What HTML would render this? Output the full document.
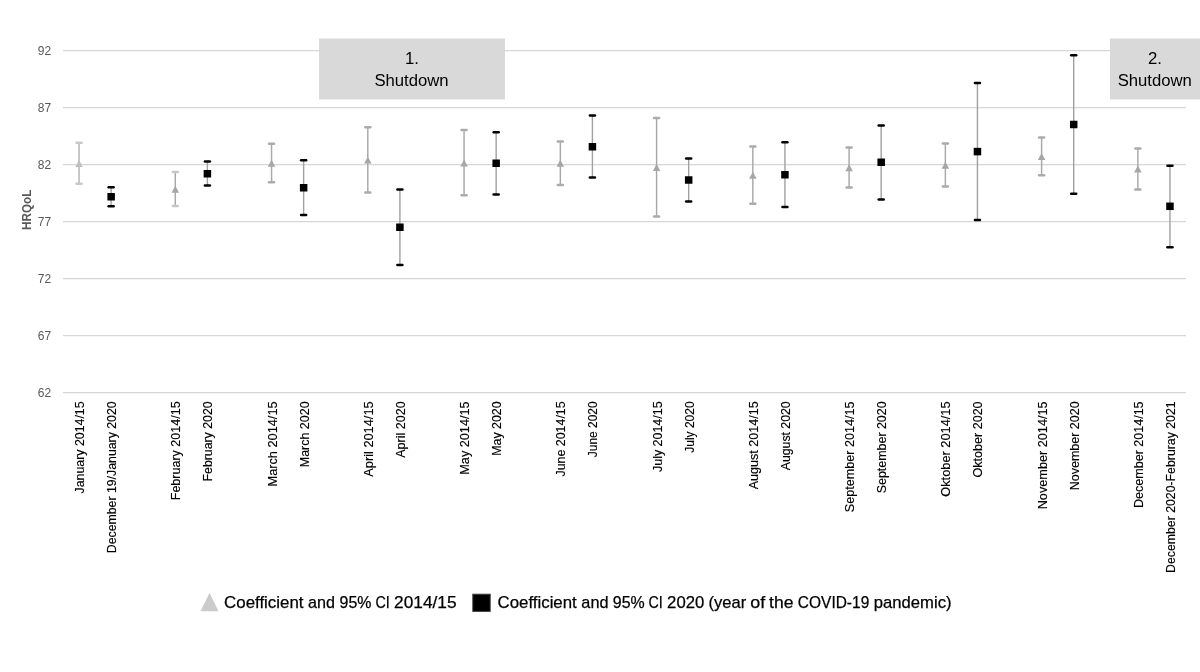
<!DOCTYPE html>
<html><head><meta charset="utf-8"><title>HRQoL</title>
<style>
html,body{margin:0;padding:0;background:#fff;}
body{width:1200px;height:672px;overflow:hidden;font-family:"Liberation Sans",sans-serif;}
svg{display:block;will-change:transform;}
text{font-family:"Liberation Sans",sans-serif;}
</style></head><body>
<svg width="1200" height="672" viewBox="0 0 1200 672">
<rect x="0" y="0" width="1200" height="672" fill="#ffffff"/>
<line x1="63.0" x2="1186.0" y1="50.6" y2="50.6" stroke="#d6d6d6" stroke-width="1.25"/>
<line x1="63.0" x2="1186.0" y1="107.6" y2="107.6" stroke="#d6d6d6" stroke-width="1.25"/>
<line x1="63.0" x2="1186.0" y1="164.6" y2="164.6" stroke="#d6d6d6" stroke-width="1.25"/>
<line x1="63.0" x2="1186.0" y1="221.6" y2="221.6" stroke="#d6d6d6" stroke-width="1.25"/>
<line x1="63.0" x2="1186.0" y1="278.6" y2="278.6" stroke="#d6d6d6" stroke-width="1.25"/>
<line x1="63.0" x2="1186.0" y1="335.6" y2="335.6" stroke="#d6d6d6" stroke-width="1.25"/>
<line x1="63.0" x2="1186.0" y1="392.6" y2="392.6" stroke="#d6d6d6" stroke-width="1.25"/>
<text x="51.1" y="54.9" font-size="12" fill="#595959" text-anchor="end">92</text>
<text x="51.1" y="111.9" font-size="12" fill="#595959" text-anchor="end">87</text>
<text x="51.1" y="168.9" font-size="12" fill="#595959" text-anchor="end">82</text>
<text x="51.1" y="225.9" font-size="12" fill="#595959" text-anchor="end">77</text>
<text x="51.1" y="282.9" font-size="12" fill="#595959" text-anchor="end">72</text>
<text x="51.1" y="339.9" font-size="12" fill="#595959" text-anchor="end">67</text>
<text x="51.1" y="396.9" font-size="12" fill="#595959" text-anchor="end">62</text>
<text transform="translate(30.6,209.8) rotate(-90)" font-size="12.8" font-weight="bold" fill="#595959" text-anchor="middle" textLength="40.2" lengthAdjust="spacingAndGlyphs">HRQoL</text>
<rect x="319" y="38.5" width="186" height="61" fill="#d9d9d9"/>
<rect x="1110" y="38.5" width="95" height="61" fill="#d9d9d9"/>
<text x="412" y="63.8" font-size="16.75" fill="#000" text-anchor="middle">1.</text>
<text x="411.5" y="86" font-size="16.75" fill="#000" text-anchor="middle" textLength="74.2" lengthAdjust="spacingAndGlyphs">Shutdown</text>
<text x="1155" y="63.8" font-size="16.75" fill="#000" text-anchor="middle">2.</text>
<text x="1154.75" y="86" font-size="16.75" fill="#000" text-anchor="middle" textLength="74.2" lengthAdjust="spacingAndGlyphs">Shutdown</text>
<line x1="79.04" x2="79.04" y1="142.75" y2="183.75" stroke="#b4b4b4" stroke-width="1.45"/>
<line x1="76.49" x2="81.59" y1="142.75" y2="142.75" stroke="#c8c8c8" stroke-width="2.4" stroke-linecap="round"/>
<line x1="76.49" x2="81.59" y1="183.75" y2="183.75" stroke="#c8c8c8" stroke-width="2.4" stroke-linecap="round"/>
<path d="M79.04,160.10 L82.79,166.90 L75.29,166.90 Z" fill="#bfbfbf"/>
<line x1="175.30" x2="175.30" y1="172" y2="206" stroke="#a8a8a8" stroke-width="1.45"/>
<line x1="172.75" x2="177.85" y1="172" y2="172" stroke="#c8c8c8" stroke-width="2.4" stroke-linecap="round"/>
<line x1="172.75" x2="177.85" y1="206" y2="206" stroke="#c8c8c8" stroke-width="2.4" stroke-linecap="round"/>
<path d="M175.30,185.85 L179.05,192.65 L171.55,192.65 Z" fill="#a6a6a6"/>
<line x1="271.56" x2="271.56" y1="143.75" y2="182.25" stroke="#a8a8a8" stroke-width="1.45"/>
<line x1="269.01" x2="274.11" y1="143.75" y2="143.75" stroke="#ababab" stroke-width="2.4" stroke-linecap="round"/>
<line x1="269.01" x2="274.11" y1="182.25" y2="182.25" stroke="#ababab" stroke-width="2.4" stroke-linecap="round"/>
<path d="M271.56,159.85 L275.31,166.65 L267.81,166.65 Z" fill="#a6a6a6"/>
<line x1="367.81" x2="367.81" y1="127.25" y2="192.5" stroke="#a8a8a8" stroke-width="1.45"/>
<line x1="365.26" x2="370.36" y1="127.25" y2="127.25" stroke="#ababab" stroke-width="2.4" stroke-linecap="round"/>
<line x1="365.26" x2="370.36" y1="192.5" y2="192.5" stroke="#ababab" stroke-width="2.4" stroke-linecap="round"/>
<path d="M367.81,156.70 L371.56,163.50 L364.06,163.50 Z" fill="#a6a6a6"/>
<line x1="464.07" x2="464.07" y1="130" y2="195.25" stroke="#a8a8a8" stroke-width="1.45"/>
<line x1="461.52" x2="466.62" y1="130" y2="130" stroke="#ababab" stroke-width="2.4" stroke-linecap="round"/>
<line x1="461.52" x2="466.62" y1="195.25" y2="195.25" stroke="#ababab" stroke-width="2.4" stroke-linecap="round"/>
<path d="M464.07,159.60 L467.82,166.40 L460.32,166.40 Z" fill="#a6a6a6"/>
<line x1="560.33" x2="560.33" y1="141.5" y2="185" stroke="#a8a8a8" stroke-width="1.45"/>
<line x1="557.78" x2="562.88" y1="141.5" y2="141.5" stroke="#ababab" stroke-width="2.4" stroke-linecap="round"/>
<line x1="557.78" x2="562.88" y1="185" y2="185" stroke="#ababab" stroke-width="2.4" stroke-linecap="round"/>
<path d="M560.33,159.85 L564.08,166.65 L556.58,166.65 Z" fill="#a6a6a6"/>
<line x1="656.59" x2="656.59" y1="118" y2="216.5" stroke="#a8a8a8" stroke-width="1.45"/>
<line x1="654.04" x2="659.14" y1="118" y2="118" stroke="#ababab" stroke-width="2.4" stroke-linecap="round"/>
<line x1="654.04" x2="659.14" y1="216.5" y2="216.5" stroke="#ababab" stroke-width="2.4" stroke-linecap="round"/>
<path d="M656.59,164.10 L660.34,170.90 L652.84,170.90 Z" fill="#a6a6a6"/>
<line x1="752.84" x2="752.84" y1="146.5" y2="203.75" stroke="#a8a8a8" stroke-width="1.45"/>
<line x1="750.29" x2="755.39" y1="146.5" y2="146.5" stroke="#ababab" stroke-width="2.4" stroke-linecap="round"/>
<line x1="750.29" x2="755.39" y1="203.75" y2="203.75" stroke="#ababab" stroke-width="2.4" stroke-linecap="round"/>
<path d="M752.84,171.85 L756.59,178.65 L749.09,178.65 Z" fill="#a6a6a6"/>
<line x1="849.10" x2="849.10" y1="147.5" y2="187.5" stroke="#a8a8a8" stroke-width="1.45"/>
<line x1="846.55" x2="851.65" y1="147.5" y2="147.5" stroke="#ababab" stroke-width="2.4" stroke-linecap="round"/>
<line x1="846.55" x2="851.65" y1="187.5" y2="187.5" stroke="#ababab" stroke-width="2.4" stroke-linecap="round"/>
<path d="M849.10,164.35 L852.85,171.15 L845.35,171.15 Z" fill="#a6a6a6"/>
<line x1="945.36" x2="945.36" y1="143.5" y2="186.5" stroke="#a8a8a8" stroke-width="1.45"/>
<line x1="942.81" x2="947.91" y1="143.5" y2="143.5" stroke="#ababab" stroke-width="2.4" stroke-linecap="round"/>
<line x1="942.81" x2="947.91" y1="186.5" y2="186.5" stroke="#ababab" stroke-width="2.4" stroke-linecap="round"/>
<path d="M945.36,161.85 L949.11,168.65 L941.61,168.65 Z" fill="#a6a6a6"/>
<line x1="1041.61" x2="1041.61" y1="137.5" y2="175.25" stroke="#a8a8a8" stroke-width="1.45"/>
<line x1="1039.06" x2="1044.16" y1="137.5" y2="137.5" stroke="#ababab" stroke-width="2.4" stroke-linecap="round"/>
<line x1="1039.06" x2="1044.16" y1="175.25" y2="175.25" stroke="#ababab" stroke-width="2.4" stroke-linecap="round"/>
<path d="M1041.61,153.10 L1045.36,159.90 L1037.86,159.90 Z" fill="#a6a6a6"/>
<line x1="1137.87" x2="1137.87" y1="148.5" y2="189.5" stroke="#a8a8a8" stroke-width="1.45"/>
<line x1="1135.32" x2="1140.42" y1="148.5" y2="148.5" stroke="#ababab" stroke-width="2.4" stroke-linecap="round"/>
<line x1="1135.32" x2="1140.42" y1="189.5" y2="189.5" stroke="#ababab" stroke-width="2.4" stroke-linecap="round"/>
<path d="M1137.87,165.60 L1141.62,172.40 L1134.12,172.40 Z" fill="#a6a6a6"/>
<line x1="111.13" x2="111.13" y1="187.25" y2="206.25" stroke="#a0a0a0" stroke-width="1.4"/>
<line x1="108.58" x2="113.68" y1="187.25" y2="187.25" stroke="#000" stroke-width="2.4" stroke-linecap="round"/>
<line x1="108.58" x2="113.68" y1="206.25" y2="206.25" stroke="#000" stroke-width="2.4" stroke-linecap="round"/>
<rect x="107.38" y="193.00" width="7.5" height="7.5" fill="#000"/>
<line x1="207.39" x2="207.39" y1="161.5" y2="185.5" stroke="#a0a0a0" stroke-width="1.4"/>
<line x1="204.84" x2="209.94" y1="161.5" y2="161.5" stroke="#000" stroke-width="2.4" stroke-linecap="round"/>
<line x1="204.84" x2="209.94" y1="185.5" y2="185.5" stroke="#000" stroke-width="2.4" stroke-linecap="round"/>
<rect x="203.64" y="170.00" width="7.5" height="7.5" fill="#000"/>
<line x1="303.64" x2="303.64" y1="160.25" y2="215" stroke="#a0a0a0" stroke-width="1.4"/>
<line x1="301.09" x2="306.19" y1="160.25" y2="160.25" stroke="#000" stroke-width="2.4" stroke-linecap="round"/>
<line x1="301.09" x2="306.19" y1="215" y2="215" stroke="#000" stroke-width="2.4" stroke-linecap="round"/>
<rect x="299.89" y="184.00" width="7.5" height="7.5" fill="#000"/>
<line x1="399.90" x2="399.90" y1="189.5" y2="265" stroke="#a0a0a0" stroke-width="1.4"/>
<line x1="397.35" x2="402.45" y1="189.5" y2="189.5" stroke="#000" stroke-width="2.4" stroke-linecap="round"/>
<line x1="397.35" x2="402.45" y1="265" y2="265" stroke="#000" stroke-width="2.4" stroke-linecap="round"/>
<rect x="396.15" y="223.50" width="7.5" height="7.5" fill="#000"/>
<line x1="496.16" x2="496.16" y1="132.25" y2="194.5" stroke="#a0a0a0" stroke-width="1.4"/>
<line x1="493.61" x2="498.71" y1="132.25" y2="132.25" stroke="#000" stroke-width="2.4" stroke-linecap="round"/>
<line x1="493.61" x2="498.71" y1="194.5" y2="194.5" stroke="#000" stroke-width="2.4" stroke-linecap="round"/>
<rect x="492.41" y="159.50" width="7.5" height="7.5" fill="#000"/>
<line x1="592.41" x2="592.41" y1="115.5" y2="177.5" stroke="#a0a0a0" stroke-width="1.4"/>
<line x1="589.86" x2="594.96" y1="115.5" y2="115.5" stroke="#000" stroke-width="2.4" stroke-linecap="round"/>
<line x1="589.86" x2="594.96" y1="177.5" y2="177.5" stroke="#000" stroke-width="2.4" stroke-linecap="round"/>
<rect x="588.66" y="143.00" width="7.5" height="7.5" fill="#000"/>
<line x1="688.67" x2="688.67" y1="158.5" y2="201.5" stroke="#a0a0a0" stroke-width="1.4"/>
<line x1="686.12" x2="691.22" y1="158.5" y2="158.5" stroke="#000" stroke-width="2.4" stroke-linecap="round"/>
<line x1="686.12" x2="691.22" y1="201.5" y2="201.5" stroke="#000" stroke-width="2.4" stroke-linecap="round"/>
<rect x="684.92" y="176.25" width="7.5" height="7.5" fill="#000"/>
<line x1="784.93" x2="784.93" y1="142.25" y2="207" stroke="#a0a0a0" stroke-width="1.4"/>
<line x1="782.38" x2="787.48" y1="142.25" y2="142.25" stroke="#000" stroke-width="2.4" stroke-linecap="round"/>
<line x1="782.38" x2="787.48" y1="207" y2="207" stroke="#000" stroke-width="2.4" stroke-linecap="round"/>
<rect x="781.18" y="171.00" width="7.5" height="7.5" fill="#000"/>
<line x1="881.19" x2="881.19" y1="125.5" y2="199.5" stroke="#a0a0a0" stroke-width="1.4"/>
<line x1="878.64" x2="883.74" y1="125.5" y2="125.5" stroke="#000" stroke-width="2.4" stroke-linecap="round"/>
<line x1="878.64" x2="883.74" y1="199.5" y2="199.5" stroke="#000" stroke-width="2.4" stroke-linecap="round"/>
<rect x="877.44" y="158.50" width="7.5" height="7.5" fill="#000"/>
<line x1="977.44" x2="977.44" y1="83" y2="220" stroke="#a0a0a0" stroke-width="1.4"/>
<line x1="974.89" x2="979.99" y1="83" y2="83" stroke="#000" stroke-width="2.4" stroke-linecap="round"/>
<line x1="974.89" x2="979.99" y1="220" y2="220" stroke="#000" stroke-width="2.4" stroke-linecap="round"/>
<rect x="973.69" y="147.85" width="7.5" height="7.5" fill="#000"/>
<line x1="1073.70" x2="1073.70" y1="55.25" y2="193.75" stroke="#a0a0a0" stroke-width="1.4"/>
<line x1="1071.15" x2="1076.25" y1="55.25" y2="55.25" stroke="#000" stroke-width="2.4" stroke-linecap="round"/>
<line x1="1071.15" x2="1076.25" y1="193.75" y2="193.75" stroke="#000" stroke-width="2.4" stroke-linecap="round"/>
<rect x="1069.95" y="120.75" width="7.5" height="7.5" fill="#000"/>
<line x1="1169.96" x2="1169.96" y1="165.75" y2="247.25" stroke="#a0a0a0" stroke-width="1.4"/>
<line x1="1167.41" x2="1172.51" y1="165.75" y2="165.75" stroke="#000" stroke-width="2.4" stroke-linecap="round"/>
<line x1="1167.41" x2="1172.51" y1="247.25" y2="247.25" stroke="#000" stroke-width="2.4" stroke-linecap="round"/>
<rect x="1166.21" y="202.55" width="7.5" height="7.5" fill="#000"/>
<text transform="translate(84.04,401.4) rotate(-90)" font-size="12.2" fill="#000" stroke="#000" stroke-width="0.15" text-anchor="end" textLength="92.10" lengthAdjust="spacingAndGlyphs">January 2014/15</text>
<text transform="translate(116.13,401.4) rotate(-90)" font-size="12.2" fill="#000" stroke="#000" stroke-width="0.15" text-anchor="end" textLength="151.85" lengthAdjust="spacingAndGlyphs">December 19/January 2020</text>
<text transform="translate(180.30,401.4) rotate(-90)" font-size="12.2" fill="#000" stroke="#000" stroke-width="0.15" text-anchor="end" textLength="98.85" lengthAdjust="spacingAndGlyphs">February 2014/15</text>
<text transform="translate(212.39,401.4) rotate(-90)" font-size="12.2" fill="#000" stroke="#000" stroke-width="0.15" text-anchor="end" textLength="80.10" lengthAdjust="spacingAndGlyphs">February 2020</text>
<text transform="translate(276.56,401.4) rotate(-90)" font-size="12.2" fill="#000" stroke="#000" stroke-width="0.15" text-anchor="end" textLength="85.10" lengthAdjust="spacingAndGlyphs">March 2014/15</text>
<text transform="translate(308.64,401.4) rotate(-90)" font-size="12.2" fill="#000" stroke="#000" stroke-width="0.15" text-anchor="end" textLength="65.85" lengthAdjust="spacingAndGlyphs">March 2020</text>
<text transform="translate(372.81,401.4) rotate(-90)" font-size="12.2" fill="#000" stroke="#000" stroke-width="0.15" text-anchor="end" textLength="75.35" lengthAdjust="spacingAndGlyphs">April 2014/15</text>
<text transform="translate(404.90,401.4) rotate(-90)" font-size="12.2" fill="#000" stroke="#000" stroke-width="0.15" text-anchor="end" textLength="56.35" lengthAdjust="spacingAndGlyphs">April 2020</text>
<text transform="translate(469.07,401.4) rotate(-90)" font-size="12.2" fill="#000" stroke="#000" stroke-width="0.15" text-anchor="end" textLength="73.35" lengthAdjust="spacingAndGlyphs">May 2014/15</text>
<text transform="translate(501.16,401.4) rotate(-90)" font-size="12.2" fill="#000" stroke="#000" stroke-width="0.15" text-anchor="end" textLength="54.35" lengthAdjust="spacingAndGlyphs">May 2020</text>
<text transform="translate(565.33,401.4) rotate(-90)" font-size="12.2" fill="#000" stroke="#000" stroke-width="0.15" text-anchor="end" textLength="75.10" lengthAdjust="spacingAndGlyphs">June 2014/15</text>
<text transform="translate(597.41,401.4) rotate(-90)" font-size="12.2" fill="#000" stroke="#000" stroke-width="0.15" text-anchor="end" textLength="55.85" lengthAdjust="spacingAndGlyphs">June 2020</text>
<text transform="translate(661.59,401.4) rotate(-90)" font-size="12.2" fill="#000" stroke="#000" stroke-width="0.15" text-anchor="end" textLength="70.60" lengthAdjust="spacingAndGlyphs">July 2014/15</text>
<text transform="translate(693.67,401.4) rotate(-90)" font-size="12.2" fill="#000" stroke="#000" stroke-width="0.15" text-anchor="end" textLength="51.35" lengthAdjust="spacingAndGlyphs">July 2020</text>
<text transform="translate(757.84,401.4) rotate(-90)" font-size="12.2" fill="#000" stroke="#000" stroke-width="0.15" text-anchor="end" textLength="87.85" lengthAdjust="spacingAndGlyphs">August 2014/15</text>
<text transform="translate(789.93,401.4) rotate(-90)" font-size="12.2" fill="#000" stroke="#000" stroke-width="0.15" text-anchor="end" textLength="68.85" lengthAdjust="spacingAndGlyphs">August 2020</text>
<text transform="translate(854.10,401.4) rotate(-90)" font-size="12.2" fill="#000" stroke="#000" stroke-width="0.15" text-anchor="end" textLength="110.85" lengthAdjust="spacingAndGlyphs">September 2014/15</text>
<text transform="translate(886.19,401.4) rotate(-90)" font-size="12.2" fill="#000" stroke="#000" stroke-width="0.15" text-anchor="end" textLength="91.85" lengthAdjust="spacingAndGlyphs">September 2020</text>
<text transform="translate(950.36,401.4) rotate(-90)" font-size="12.2" fill="#000" stroke="#000" stroke-width="0.15" text-anchor="end" textLength="95.35" lengthAdjust="spacingAndGlyphs">Oktober 2014/15</text>
<text transform="translate(982.44,401.4) rotate(-90)" font-size="12.2" fill="#000" stroke="#000" stroke-width="0.15" text-anchor="end" textLength="76.10" lengthAdjust="spacingAndGlyphs">Oktober 2020</text>
<text transform="translate(1046.61,401.4) rotate(-90)" font-size="12.2" fill="#000" stroke="#000" stroke-width="0.15" text-anchor="end" textLength="107.90" lengthAdjust="spacingAndGlyphs">November 2014/15</text>
<text transform="translate(1078.70,401.4) rotate(-90)" font-size="12.2" fill="#000" stroke="#000" stroke-width="0.15" text-anchor="end" textLength="88.85" lengthAdjust="spacingAndGlyphs">November 2020</text>
<text transform="translate(1142.87,401.4) rotate(-90)" font-size="12.2" fill="#000" stroke="#000" stroke-width="0.15" text-anchor="end" textLength="106.60" lengthAdjust="spacingAndGlyphs">December 2014/15</text>
<text transform="translate(1174.96,401.4) rotate(-90)" font-size="12.2" fill="#000" stroke="#000" stroke-width="0.15" text-anchor="end" textLength="171.60" lengthAdjust="spacingAndGlyphs">December 2020-Februray 2021</text>
<path d="M209.5,593 L218.5,611.2 L200.5,611.2 Z" fill="#cbcbcb"/>
<text x="224.10" y="607.8" font-size="16.2" fill="#000" stroke="#000" stroke-width="0.25" textLength="79.40" lengthAdjust="spacingAndGlyphs">Coefficient</text>
<text x="308.10" y="607.8" font-size="16.2" fill="#000" stroke="#000" stroke-width="0.25" textLength="26.90" lengthAdjust="spacingAndGlyphs">and</text>
<text x="339.60" y="607.8" font-size="16.2" fill="#000" stroke="#000" stroke-width="0.25" textLength="31.90" lengthAdjust="spacingAndGlyphs">95%</text>
<text x="375.50" y="607.8" font-size="16.2" fill="#000" stroke="#000" stroke-width="0.25" textLength="14.30" lengthAdjust="spacingAndGlyphs">CI</text>
<text x="394.10" y="607.8" font-size="16.2" fill="#000" stroke="#000" stroke-width="0.25" textLength="62.40" lengthAdjust="spacingAndGlyphs">2014/15</text>
<rect x="472.8" y="594.2" width="17.4" height="17.2" fill="#000" stroke="#404040" stroke-width="1"/>
<text x="497.60" y="607.8" font-size="16.2" fill="#000" stroke="#000" stroke-width="0.25" textLength="79.15" lengthAdjust="spacingAndGlyphs">Coefficient</text>
<text x="581.35" y="607.8" font-size="16.2" fill="#000" stroke="#000" stroke-width="0.25" textLength="27.15" lengthAdjust="spacingAndGlyphs">and</text>
<text x="612.85" y="607.8" font-size="16.2" fill="#000" stroke="#000" stroke-width="0.25" textLength="31.90" lengthAdjust="spacingAndGlyphs">95%</text>
<text x="648.50" y="607.8" font-size="16.2" fill="#000" stroke="#000" stroke-width="0.25" textLength="14.30" lengthAdjust="spacingAndGlyphs">CI</text>
<text x="667.10" y="607.8" font-size="16.2" fill="#000" stroke="#000" stroke-width="0.25" textLength="37.15" lengthAdjust="spacingAndGlyphs">2020</text>
<text x="708.60" y="607.8" font-size="16.2" fill="#000" stroke="#000" stroke-width="0.25" textLength="37.65" lengthAdjust="spacingAndGlyphs">(year</text>
<text x="750.35" y="607.8" font-size="16.2" fill="#000" stroke="#000" stroke-width="0.25" textLength="14.90" lengthAdjust="spacingAndGlyphs">of</text>
<text x="769.10" y="607.8" font-size="16.2" fill="#000" stroke="#000" stroke-width="0.25" textLength="24.40" lengthAdjust="spacingAndGlyphs">the</text>
<text x="797.85" y="607.8" font-size="16.2" fill="#000" stroke="#000" stroke-width="0.25" textLength="71.40" lengthAdjust="spacingAndGlyphs">COVID-19</text>
<text x="873.85" y="607.8" font-size="16.2" fill="#000" stroke="#000" stroke-width="0.25" textLength="77.65" lengthAdjust="spacingAndGlyphs">pandemic)</text>
</svg>
</body></html>
